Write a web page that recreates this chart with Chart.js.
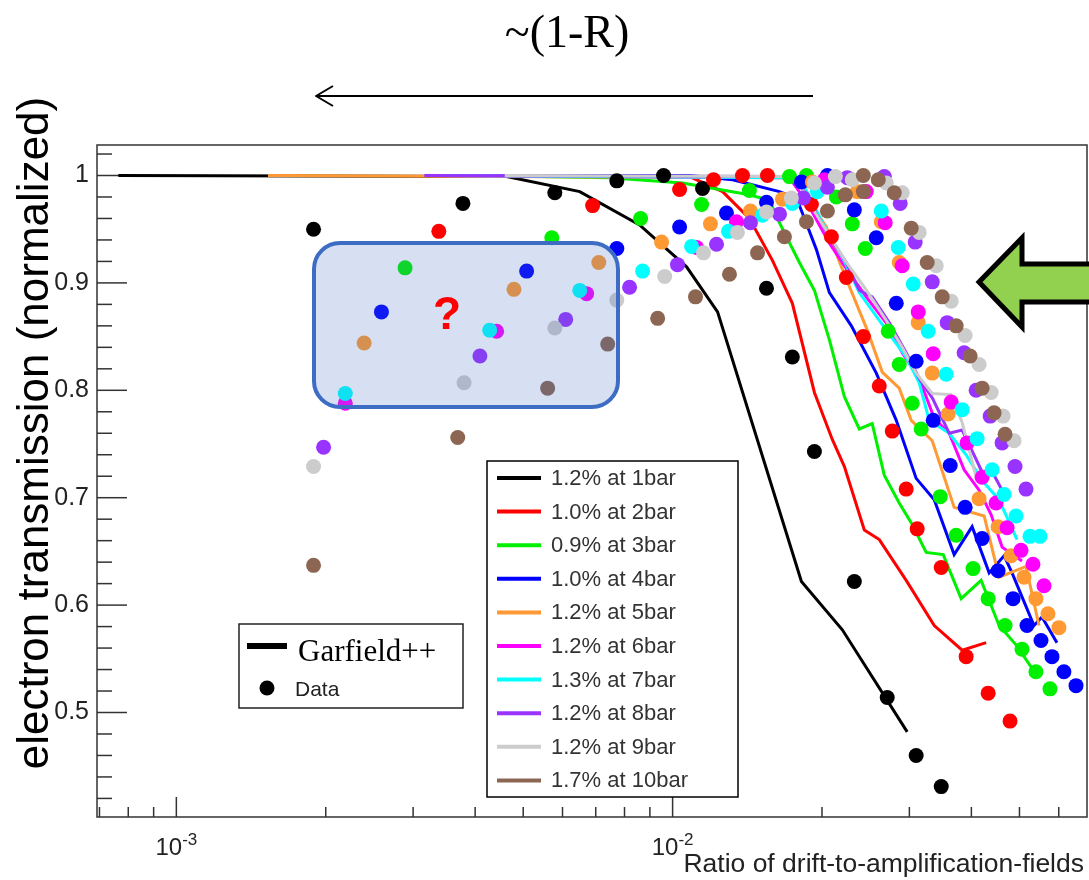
<!DOCTYPE html>
<html>
<head>
<meta charset="utf-8">
<script src="https://cdn.jsdelivr.net/npm/chart.js@4.4.0/dist/chart.umd.min.js"></script>
<style>
  html, body { margin: 0; padding: 0; background: #fff; }
  canvas { display: block; }
</style>
</head>
<body>
<canvas id="chart" width="1089" height="880"></canvas>
<script>
"use strict";

// Series labels (one per gas pressure)
const seriesNames = ['1.2% at 1bar', '1.0% at 2bar', '0.9% at 3bar', '1.0% at 4bar', '1.2% at 5bar',
                     '1.2% at 6bar', '1.3% at 7bar', '1.2% at 8bar', '1.2% at 9bar', '1.7% at 10bar'];

// Measured points: [ratio, transmission]
const data1bar = [[1.89e-3,0.950],[3.78e-3,0.974],[5.79e-3,0.984],[7.72e-3,0.995],[9.59e-3,1.000],[1.149e-2,0.988],
  [1.546e-2,0.895],[1.743e-2,0.831],[1.931e-2,0.743],[2.324e-2,0.622],[2.707e-2,0.514],[3.096e-2,0.460],[3.478e-2,0.431]];
const data2bar = [[3.38e-3,0.948],[6.90e-3,0.972],[1.033e-2,0.987],[1.209e-2,0.996],[1.383e-2,1.000],[1.553e-2,1.000],
  [1.904e-2,0.973],[2.089e-2,0.943],[2.239e-2,0.905],[2.423e-2,0.850],[2.609e-2,0.804],[2.771e-2,0.762],[2.956e-2,0.708],
  [3.111e-2,0.671],[3.478e-2,0.635],[3.904e-2,0.552],[4.324e-2,0.518],[4.786e-2,0.492]];
const data3bar = [[2.89e-3,0.914],[5.71e-3,0.942],[8.62e-3,0.960],[1.144e-2,0.973],[1.428e-2,0.986],[1.720e-2,0.999],
  [1.861e-2,1.000],[2.138e-2,0.980],[2.302e-2,0.955],[2.445e-2,0.932],[2.720e-2,0.855],[2.862e-2,0.824],[3.040e-2,0.788],
  [3.169e-2,0.764],[3.462e-2,0.701],[3.728e-2,0.665],[4.032e-2,0.634],[4.324e-2,0.606],[4.677e-2,0.581],[5.059e-2,0.559],
  [5.397e-2,0.538],[5.760e-2,0.522]];
const data4bar = [[2.59e-3,0.873],[5.08e-3,0.911],[7.72e-3,0.932],[1.033e-2,0.952],[1.284e-2,0.965],[1.546e-2,0.975],
  [1.818e-2,0.994],[2.051e-2,1.000],[2.324e-2,0.968],[2.573e-2,0.942],[2.823e-2,0.881],[3.096e-2,0.827],[3.351e-2,0.772],
  [3.626e-2,0.730],[3.886e-2,0.691],[4.204e-2,0.662],[4.528e-2,0.632],[4.853e-2,0.606],[5.178e-2,0.581],[5.525e-2,0.567],
  [5.814e-2,0.552],[6.145e-2,0.538],[6.500e-2,0.525]];
const data5bar = [[2.39e-3,0.844],[4.79e-3,0.894],[7.10e-3,0.919],[9.50e-3,0.938],[1.192e-2,0.955],[1.435e-2,0.967],
  [1.665e-2,0.978],[1.913e-2,0.994],[2.356e-2,0.985],[2.633e-2,0.957],[2.862e-2,0.919],[3.126e-2,0.863],[3.336e-2,0.816],
  [3.592e-2,0.778],[4.146e-2,0.699],[4.528e-2,0.673],[4.808e-2,0.646],[5.106e-2,0.626],[5.397e-2,0.606],[5.707e-2,0.592],
  [6.005e-2,0.579]];
const data6bar = [[2.19e-3,0.788],[4.42e-3,0.855],[6.71e-3,0.890],[1.118e-2,0.933],[1.345e-2,0.957],[2.022e-2,0.996],
  [2.456e-2,0.985],[2.682e-2,0.956],[2.902e-2,0.916],[3.126e-2,0.873],[3.351e-2,0.834],[3.642e-2,0.789],[3.922e-2,0.751],
  [4.204e-2,0.719],[4.486e-2,0.695],[4.721e-2,0.672],[5.036e-2,0.651],[5.323e-2,0.638],[5.603e-2,0.618]];
const data7bar = [[2.19e-3,0.797],[4.28e-3,0.856],[6.50e-3,0.893],[8.70e-3,0.911],[1.092e-2,0.934],[1.296e-2,0.948],
  [1.517e-2,0.963],[1.743e-2,0.974],[1.958e-2,0.985],[2.633e-2,0.967],[2.849e-2,0.933],[3.054e-2,0.899],[3.274e-2,0.855],
  [3.559e-2,0.815],[3.833e-2,0.782],[4.108e-2,0.755],[4.405e-2,0.726],[4.656e-2,0.703],[4.921e-2,0.683],[5.250e-2,0.664],
  [5.500e-2,0.664]];
const data8bar = [[1.98e-3,0.747],[4.09e-3,0.832],[6.09e-3,0.866],[8.19e-3,0.896],[1.023e-2,0.917],[1.226e-2,0.936],
  [1.435e-2,0.956],[1.642e-2,0.964],[1.835e-2,0.979],[2.051e-2,0.989],[2.250e-2,0.998],[2.670e-2,0.999],[2.875e-2,0.974],
  [3.082e-2,0.938],[3.336e-2,0.901],[3.576e-2,0.863],[3.868e-2,0.835],[4.089e-2,0.800],[4.364e-2,0.776],[4.613e-2,0.751],
  [4.898e-2,0.729],[5.154e-2,0.708]];
const data9bar = [[1.89e-3,0.729],[3.80e-3,0.807],[5.79e-3,0.858],[7.72e-3,0.884],[9.64e-3,0.906],[1.154e-2,0.928],
  [1.351e-2,0.947],[1.546e-2,0.966],[1.735e-2,0.979],[1.931e-2,0.993],[2.128e-2,0.999],[2.302e-2,0.996],[2.695e-2,0.993],
  [2.902e-2,0.984],[3.140e-2,0.947],[3.398e-2,0.916],[3.642e-2,0.883],[3.886e-2,0.851],[4.146e-2,0.824],[4.385e-2,0.798],
  [4.634e-2,0.776],[4.876e-2,0.753]];
const data10bar = [[1.89e-3,0.637],[3.69e-3,0.756],[5.60e-3,0.802],[7.40e-3,0.843],[9.33e-3,0.867],[1.112e-2,0.887],
  [1.302e-2,0.908],[1.483e-2,0.928],[1.680e-2,0.943],[1.861e-2,0.957],[2.051e-2,0.967],[2.229e-2,0.982],[2.423e-2,0.985],
  [2.423e-2,1.000],[2.597e-2,0.996],[2.797e-2,0.984],[3.026e-2,0.951],[3.259e-2,0.919],[3.494e-2,0.887],[3.728e-2,0.860],
  [3.977e-2,0.832],[4.204e-2,0.802],[4.445e-2,0.779],[4.677e-2,0.759]];

// Garfield++ simulation curves: [ratio, transmission]
const sim1bar = [[7.64e-4,1.000],[4.63e-3,0.999],[6.50e-3,0.985],[8.58e-3,0.954],[1.067e-2,0.915],[1.232e-2,0.873],
  [1.818e-2,0.622],[2.198e-2,0.577],[2.970e-2,0.482]];
const sim2bar = [[4.00e-3,1.000],[1.082e-2,0.999],[1.261e-2,0.985],[1.428e-2,0.960],[1.589e-2,0.921],[1.743e-2,0.881],
  [1.931e-2,0.798],[2.099e-2,0.754],[2.219e-2,0.729],[2.434e-2,0.670],[2.609e-2,0.661],[2.956e-2,0.623],[3.367e-2,0.581],
  [3.833e-2,0.558],[4.284e-2,0.565]];
const sim3bar = [[4.00e-3,1.000],[7.47e-3,0.998],[1.047e-2,0.993],[1.428e-2,0.982],[1.567e-2,0.977],[1.642e-2,0.956],
  [1.801e-2,0.919],[1.931e-2,0.893],[2.070e-2,0.847],[2.219e-2,0.794],[2.378e-2,0.764],[2.525e-2,0.769],[2.670e-2,0.721],
  [2.862e-2,0.695],[3.040e-2,0.675],[3.244e-2,0.649],[3.510e-2,0.647],[3.815e-2,0.606],[4.185e-2,0.623],[4.549e-2,0.581],
  [4.921e-2,0.563],[5.323e-2,0.540]];
const sim4bar = [[4.29e-3,1.000],[1.082e-2,1.000],[1.320e-2,0.996],[1.642e-2,0.985],[1.777e-2,0.979],[1.844e-2,0.960],
  [1.949e-2,0.931],[2.070e-2,0.891],[2.292e-2,0.860],[2.573e-2,0.816],[2.823e-2,0.772],[3.096e-2,0.718],[3.367e-2,0.698],
  [3.693e-2,0.647],[4.014e-2,0.673],[4.344e-2,0.630],[4.656e-2,0.646],[4.831e-2,0.630],[5.348e-2,0.581],[5.551e-2,0.589],
  [5.950e-2,0.565]];
const sim5bar = [[1.53e-3,1.000],[1.720e-2,0.998],[1.801e-2,0.993],[1.861e-2,0.980],[2.041e-2,0.952],[2.188e-2,0.915],
  [2.345e-2,0.881],[2.468e-2,0.856],[2.645e-2,0.817],[2.862e-2,0.802],[3.026e-2,0.772],[3.336e-2,0.753],[3.693e-2,0.691],
  [4.244e-2,0.683],[4.549e-2,0.626],[5.154e-2,0.636],[5.474e-2,0.581]];
const sim6bar = [[3.24e-3,1.000],[1.720e-2,0.998],[1.870e-2,0.974],[2.070e-2,0.937],[2.270e-2,0.909],[2.456e-2,0.887],
  [2.732e-2,0.859],[2.902e-2,0.835],[3.140e-2,0.811],[3.367e-2,0.774],[3.609e-2,0.760],[3.868e-2,0.726],[4.146e-2,0.707],
  [4.385e-2,0.684],[4.613e-2,0.654],[5.059e-2,0.641]];
const sim7bar = [[3.40e-3,1.000],[1.720e-2,0.998],[1.827e-2,0.993],[2.004e-2,0.956],[2.198e-2,0.924],[2.378e-2,0.891],
  [2.609e-2,0.865],[2.956e-2,0.831],[3.140e-2,0.807],[3.289e-2,0.772],[3.609e-2,0.760],[3.904e-2,0.740],[4.204e-2,0.716],
  [4.549e-2,0.698],[4.944e-2,0.661]];
const sim8bar = [[3.16e-3,1.000],[1.760e-2,0.999],[1.801e-2,0.993],[1.913e-2,0.971],[2.070e-2,0.943],[2.239e-2,0.919],
  [2.378e-2,0.893],[2.525e-2,0.887],[2.732e-2,0.863],[2.956e-2,0.835],[3.140e-2,0.811],[3.336e-2,0.793],[3.609e-2,0.760],
  [3.833e-2,0.763],[4.204e-2,0.724],[4.385e-2,0.726],[4.613e-2,0.707]];
const sim9bar = [[4.59e-3,1.000],[1.720e-2,0.999],[1.801e-2,0.993],[1.887e-2,0.974],[2.041e-2,0.949],[2.239e-2,0.919],
  [2.434e-2,0.896],[2.695e-2,0.865],[2.902e-2,0.840],[3.096e-2,0.816],[3.336e-2,0.797],[3.642e-2,0.796],[3.833e-2,0.770],
  [4.089e-2,0.719],[4.344e-2,0.719]];

// Axis ticks
const yTickValues = [0.5, 0.6, 0.7, 0.8, 0.9, 1];
const yTickLabels = ['0.5', '0.6', '0.7', '0.8', '0.9', '1'];
const xTickValues = [1e-3, 1e-2];
const xTickExponents = ['-3', '-2'];

// Styling
const colors = ['#000000', '#ff0000', '#00f000', '#0000ff', '#ff9933',
                '#ff00ff', '#00ffff', '#9933ff', '#cccccc', '#8c6652'];
const pointSets = [data1bar, data2bar, data3bar, data4bar, data5bar, data6bar, data7bar, data8bar, data9bar, data10bar];
const lineSets = [sim1bar, sim2bar, sim3bar, sim4bar, sim5bar, sim6bar, sim7bar, sim8bar, sim9bar];

const SANS = '"Liberation Sans", Arial, sans-serif';
const SERIF = '"Liberation Serif", "Times New Roman", serif';

const toXY = arr => arr.map(p => ({ x: p[0], y: p[1] }));

const datasets = [];
lineSets.forEach((set, i) => {
    datasets.push({
        label: 'sim ' + seriesNames[i],
        data: toXY(set),
        showLine: true,
        borderColor: colors[i],
        borderWidth: 3,
        pointRadius: 0,
        fill: false,
        tension: 0,
        order: 40 - i
    });
});
pointSets.forEach((set, i) => {
    datasets.push({
        label: seriesNames[i],
        data: toXY(set),
        showLine: false,
        backgroundColor: colors[i],
        borderWidth: 0,
        pointRadius: 7.5,
        order: 20 - i
    });
});

function drawFrame(chart) {
    const { ctx, chartArea: a, scales: { x, y } } = chart;
    ctx.save();
    ctx.strokeStyle = '#333';
    ctx.lineWidth = 1.5;
    ctx.strokeRect(a.left, a.top, a.right - a.left, a.bottom - a.top);

    // y ticks: major every 0.1, minor every 0.02
    for (let k = 21; k <= 51; k++) {
        const v = k / 50;
        const py = y.getPixelForValue(v);
        if (py < a.top || py > a.bottom) continue;
        const major = k % 5 === 0;
        ctx.beginPath();
        ctx.moveTo(a.left, py);
        ctx.lineTo(a.left + (major ? 30 : 15), py);
        ctx.stroke();
    }
    // x ticks: log decades
    for (let e = -4; e <= -1; e++) {
        for (let m = 1; m <= 9; m++) {
            const v = m * Math.pow(10, e);
            const px = x.getPixelForValue(v);
            if (px < a.left || px > a.right) continue;
            ctx.beginPath();
            ctx.moveTo(px, a.bottom);
            ctx.lineTo(px, a.bottom - (m === 1 ? 20 : 10));
            ctx.stroke();
        }
    }

    // tick labels
    ctx.fillStyle = '#222';
    ctx.font = '25px ' + SANS;
    ctx.textAlign = 'right';
    ctx.textBaseline = 'middle';
    yTickValues.forEach((v, i) => {
        ctx.fillText(yTickLabels[i], 89, y.getPixelForValue(v));
    });
    ctx.textBaseline = 'alphabetic';
    ctx.textAlign = 'left';
    xTickValues.forEach((v, i) => {
        const px = x.getPixelForValue(v);
        ctx.font = '24px ' + SANS;
        const wBase = ctx.measureText('10').width;
        ctx.font = '17px ' + SANS;
        const wExp = ctx.measureText(xTickExponents[i]).width;
        const start = px - (wBase + wExp) / 2;
        ctx.font = '24px ' + SANS;
        ctx.fillText('10', start, 855);
        ctx.font = '17px ' + SANS;
        ctx.fillText(xTickExponents[i], start + wBase, 845);
    });

    // axis titles
    ctx.font = '26.5px ' + SANS;
    ctx.textAlign = 'right';
    ctx.fillText('Ratio of drift-to-amplification-fields', 1084, 872);

    ctx.save();
    ctx.translate(48, 433);
    ctx.rotate(-Math.PI / 2);
    ctx.textAlign = 'center';
    ctx.fillStyle = '#000';
    ctx.font = '44px ' + SANS;
    ctx.fillText('electron transmission (normalized)', 0, 0);
    ctx.restore();
    ctx.restore();
}

function drawOverlays(chart) {
    const { ctx } = chart;
    ctx.save();

    // pressure legend
    ctx.fillStyle = '#fff';
    ctx.fillRect(487, 461, 251, 336);
    ctx.strokeStyle = '#000';
    ctx.lineWidth = 1.5;
    ctx.strokeRect(487, 461, 251, 336);
    ctx.font = '22px ' + SANS;
    ctx.textBaseline = 'middle';
    ctx.textAlign = 'left';
    seriesNames.forEach((name, i) => {
        const cy = 478 + i * 33.6;
        ctx.strokeStyle = colors[i];
        ctx.lineWidth = 4;
        ctx.beginPath();
        ctx.moveTo(497, cy);
        ctx.lineTo(541, cy);
        ctx.stroke();
        ctx.fillStyle = '#333';
        ctx.fillText(name, 551, cy + 1);
    });

    // Garfield++ / Data legend
    ctx.fillStyle = '#fff';
    ctx.fillRect(239, 624, 224, 84);
    ctx.strokeStyle = '#222';
    ctx.lineWidth = 1.5;
    ctx.strokeRect(239, 624, 224, 84);
    ctx.strokeStyle = '#000';
    ctx.lineWidth = 6;
    ctx.beginPath();
    ctx.moveTo(247, 646);
    ctx.lineTo(287, 646);
    ctx.stroke();
    ctx.fillStyle = '#000';
    ctx.textBaseline = 'alphabetic';
    ctx.font = '31px ' + SERIF;
    ctx.fillText('Garfield++', 298, 661);
    ctx.beginPath();
    ctx.arc(267, 688, 7.5, 0, Math.PI * 2);
    ctx.fill();
    ctx.fillStyle = '#222';
    ctx.font = '21px ' + SANS;
    ctx.fillText('Data', 295, 696);

    // highlighted low-ratio region
    ctx.beginPath();
    ctx.roundRect(314, 243, 304, 164, 26);
    ctx.fillStyle = 'rgba(68, 114, 196, 0.22)';
    ctx.fill();
    ctx.strokeStyle = '#3d6cc5';
    ctx.lineWidth = 4;
    ctx.stroke();
    ctx.fillStyle = '#ff0000';
    ctx.font = 'bold 46px ' + SANS;
    ctx.textAlign = 'center';
    ctx.fillText('?', 447, 329);

    // green block arrow on the right
    ctx.beginPath();
    ctx.moveTo(979, 282);
    ctx.lineTo(1022, 238);
    ctx.lineTo(1022, 264);
    ctx.lineTo(1100, 264);
    ctx.lineTo(1100, 302);
    ctx.lineTo(1022, 302);
    ctx.lineTo(1022, 327);
    ctx.closePath();
    ctx.fillStyle = '#92d050';
    ctx.fill();
    ctx.strokeStyle = '#000';
    ctx.lineWidth = 5;
    ctx.lineJoin = 'miter';
    ctx.stroke();

    // top arrow and label
    ctx.lineWidth = 2;
    ctx.lineJoin = 'round';
    ctx.beginPath();
    ctx.moveTo(813, 96);
    ctx.lineTo(316, 96);
    ctx.moveTo(333, 86);
    ctx.lineTo(316, 96);
    ctx.lineTo(333, 106);
    ctx.stroke();
    ctx.fillStyle = '#000';
    ctx.font = '46px ' + SERIF;
    ctx.textAlign = 'center';
    ctx.fillText('~(1-R)', 567, 47);

    ctx.restore();
}

const decorations = {
    id: 'decorations',
    beforeDatasetsDraw: drawFrame,
    afterDatasetsDraw: drawOverlays
};

new Chart(document.getElementById('chart'), {
    type: 'scatter',
    data: { datasets },
    options: {
        responsive: false,
        animation: false,
        layout: { autoPadding: false, padding: { left: 97, right: 2, top: 145, bottom: 63 } },
        plugins: { legend: { display: false }, tooltip: { enabled: false } },
        scales: {
            x: { type: 'logarithmic', min: 6.92e-4, max: 0.0684, display: false },
            y: { type: 'linear', min: 0.4027, max: 1.0284, display: false }
        }
    },
    plugins: [decorations]
});
</script>
</body>
</html>
